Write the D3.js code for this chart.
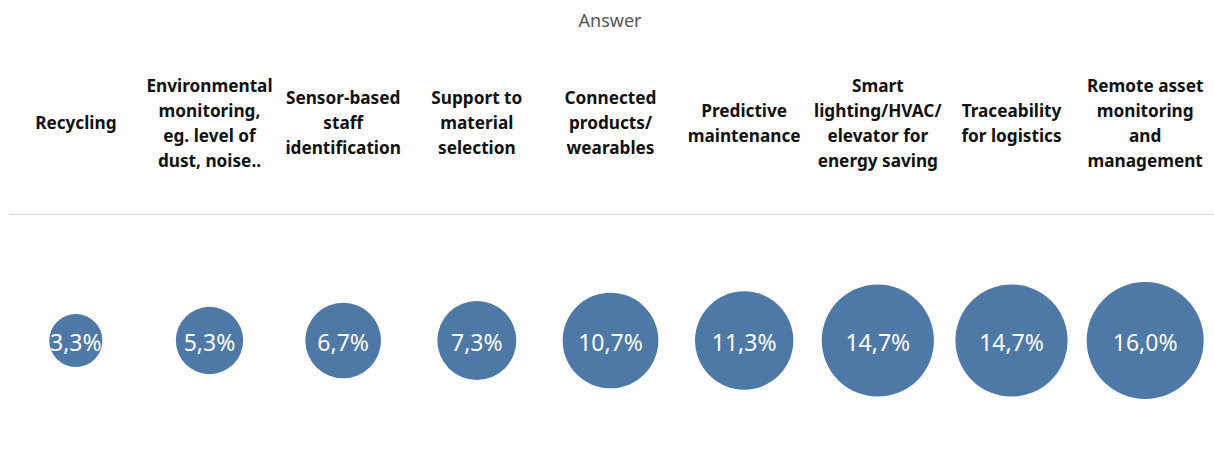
<!DOCTYPE html>
<html>
<head>
<meta charset="utf-8">
<script src="https://cdn.jsdelivr.net/npm/d3@7"></script>
<style>
  html, body { margin: 0; padding: 0; background: #fff; }
  svg { display: block; }
</style>
</head>
<body>
<svg id="chart" width="1214" height="463"></svg>
<script>
// Categories (header lines per column) and share of answers (%)
const categories = [
  ["Recycling"],
  ["Environmental", "monitoring,", "eg. level of", "dust, noise.."],
  ["Sensor-based", "staff", "identification"],
  ["Support to", "material", "selection"],
  ["Connected", "products/", "wearables"],
  ["Predictive", "maintenance"],
  ["Smart", "lighting/HVAC/", "elevator for", "energy saving"],
  ["Traceability", "for logistics"],
  ["Remote asset", "monitoring", "and", "management"]
];
const values = [3.3, 5.3, 6.7, 7.3, 10.7, 11.3, 14.7, 14.7, 16.0];
const headerTitle = "Answer";

const W = 1214, H = 463;
const svg = d3.select("#chart");
const idx = d3.range(categories.length);

const x = d3.scaleBand().domain(idx).range([9, 1212]).padding(0);
const r = d3.scaleSqrt().domain([0, 16]).range([0, 58.5]);
const fmt = v => d3.format(".1f")(v).replace(".", ",") + "%";

const font = "'Noto Sans', sans-serif";

// Column header title
svg.append("text")
  .attr("x", 610).attr("y", 20)
  .attr("text-anchor", "middle").attr("dominant-baseline", "central")
  .attr("font-family", font).attr("font-size", 18)
  .attr("fill", "#555").text(headerTitle);

// Category headers
const lineH = 25, midY = 122.5;
const heads = svg.append("g").selectAll("text").data(idx).join("text")
  .attr("x", i => x(i) + x.bandwidth() / 2)
  .attr("text-anchor", "middle")
  .attr("font-family", font).attr("font-weight", "bold").attr("font-size", 17.2)
  .attr("fill", "#111");
heads.each(function (i) {
  const lines = categories[i];
  const y0 = midY - (lines.length - 1) * lineH / 2;
  d3.select(this).selectAll("tspan").data(lines).join("tspan")
    .attr("x", x(i) + x.bandwidth() / 2)
    .attr("y", (d, k) => y0 + k * lineH)
    .attr("dominant-baseline", "central")
    .text(d => d);
});

// Separator under headers
svg.append("line")
  .attr("x1", 9).attr("x2", W).attr("y1", 214.5).attr("y2", 214.5)
  .attr("stroke", "#d9d9d9").attr("stroke-width", 1);

// Bubbles
const cy = 340.5;
svg.append("g").selectAll("circle").data(idx).join("circle")
  .attr("cx", i => x(i) + x.bandwidth() / 2)
  .attr("cy", cy)
  .attr("r", i => r(values[i]))
  .attr("fill", "#4e79a7");

svg.append("g").selectAll("text").data(idx).join("text")
  .attr("x", i => x(i) + x.bandwidth() / 2)
  .attr("y", cy + 1)
  .attr("text-anchor", "middle").attr("dominant-baseline", "central")
  .attr("font-family", font).attr("font-size", 23)
  .attr("fill", "#fff")
  .text(i => fmt(values[i]));
</script>
</body>
</html>
